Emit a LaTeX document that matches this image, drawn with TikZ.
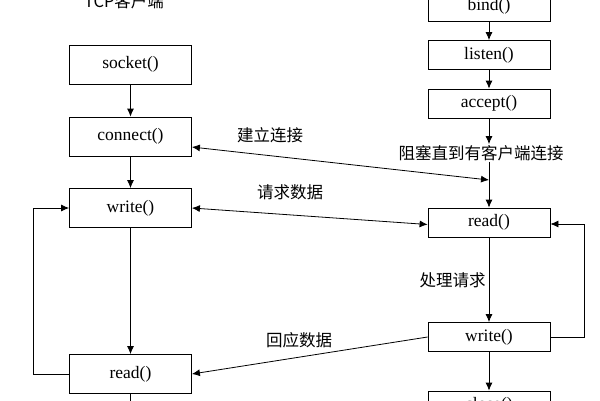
\documentclass[tikz,border=0pt]{standalone}
\usepackage{fontspec}
\setmainfont{Liberation Serif}
\newfontfamily\cjk{Noto Sans CJK SC}
\usetikzlibrary{arrows.meta}

\begin{document}
\begin{tikzpicture}[x=1pt,y=-1pt]
		\tikzset{box/.style={draw,line width=0.8pt,minimum width=122pt,inner sep=0pt,font=\fontsize{17.5}{20}\selectfont},
			cbox/.style={box,minimum height=39pt},
			sbox/.style={box,minimum height=29pt},
			arr/.style={line width=0.8pt,-{Latex[length=8pt,width=7pt]}},
			biarr/.style={line width=0.8pt,{Latex[length=8pt,width=7pt]}-{Latex[length=8pt,width=7pt]}},
			lbl/.style={font=\cjk\fontsize{16.5}{18}\selectfont,inner sep=1pt}};
		\clip (0,0) rectangle (600,400);
		
		% client
		\node[lbl] (ctitle) at (124,1) {TCP客户端};
		\node[cbox] (socket) at (130.5,64.5) {socket()};
		\node[cbox] (connect) at (130.5,136.5) {connect()};
		\node[cbox] (cwrite) at (130.5,208) {write()};
		\node[cbox] (cread) at (130.5,374) {read()};
		\coordinate (cend) at (130.5,420);
		
		% server
		\node[sbox] (bind) at (489,6.5) {bind()};
		\node[sbox] (listen) at (489,55) {listen()};
		\node[sbox] (accept) at (489,103.5) {accept()};
		\node[lbl] (block) at (481,153) {阻塞直到有客户端连接};
		\node[sbox] (sread) at (489,222.5) {read()};
		\node[sbox] (swrite) at (489,337) {write()};
		\node[sbox] (sclose) at (489,405.5) {close()};
		\coordinate (cjoin) at (489,180);
		
		\draw[arr] (socket) -- (connect);
		\draw[arr] (connect) -- (cwrite);
		\draw[arr] (cwrite) -- (cread);
		\draw[line width=0.8pt] (cread) -- (cend);
		\draw[arr] (cread.west) -- ++(-36,0) |- (cwrite.west);
		
		\draw[arr] (bind) -- (listen);
		\draw[arr] (listen) -- (accept);
		\draw[arr] (accept) -- (accept |- block.north);
		\draw[arr] (accept |- block.south) -- (sread);
		\draw[arr] (sread) -- node[lbl,left=2pt] (proc) {处理请求} (swrite);
		\draw[arr] (swrite) -- (sclose);
		\draw[arr] (swrite.east) -- ++(34,0) |- ([yshift=-1.5pt]sread.east);
		
		\draw[biarr] ([yshift=-10.5pt]connect.east) -- (cjoin);
		\draw[biarr] (cwrite.east) -- ([yshift=-2pt]sread.west);
		\draw[arr] (swrite.west) -- (cread.east);
		
		\node[lbl] (lconn) at (270,135) {建立连接};
		\node[lbl] (lreq) at (290,192) {请求数据};
		\node[lbl] (lresp) at (299,340) {回应数据};
	\end{tikzpicture}
\end{document}
